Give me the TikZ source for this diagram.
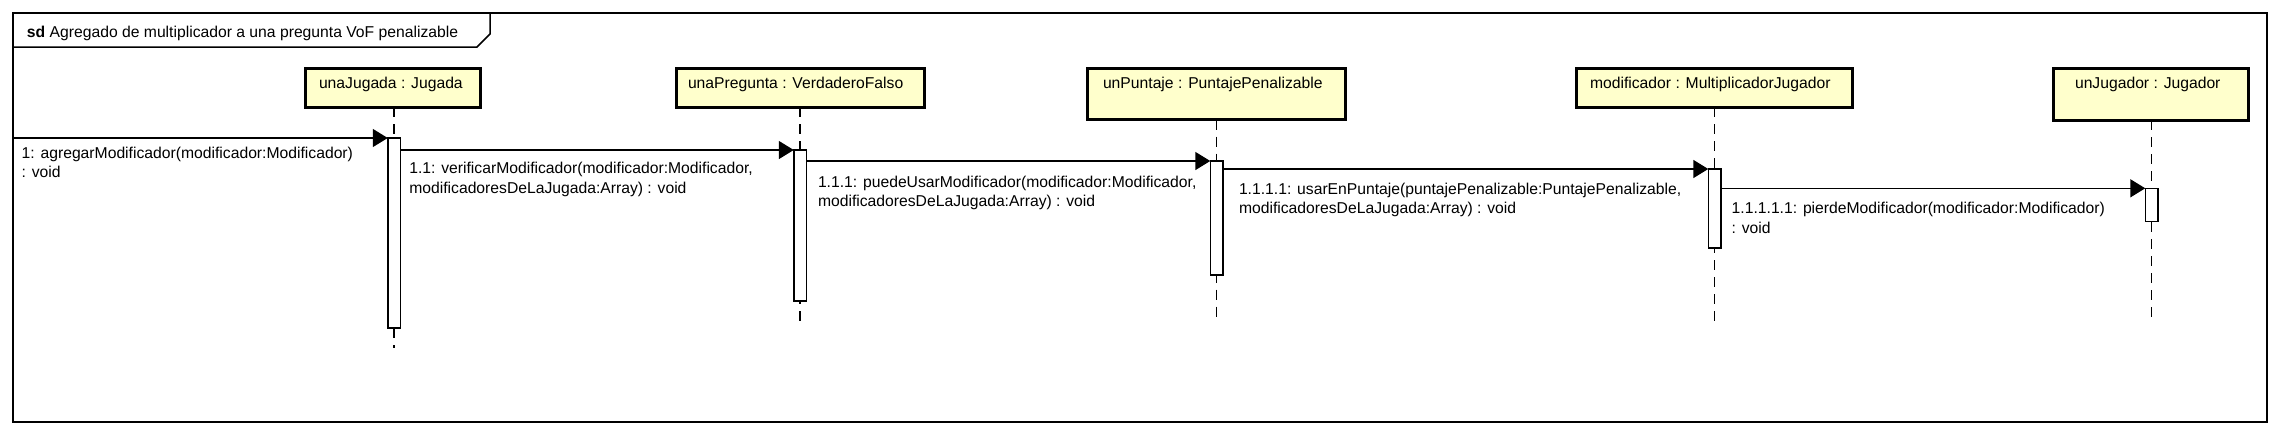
\documentclass[tikz,border=0pt]{standalone}
\usepackage{fontspec}
\setmainfont{Liberation Sans}
\usetikzlibrary{arrows.meta}
\definecolor{headfill}{HTML}{FFFFCC}
\begin{document}
\begin{tikzpicture}[x=1pt,y=-1pt,
  every node/.style={font=\fontsize{15.7}{19.7}\selectfont, inner sep=0pt, outer sep=0pt},
  head/.style={draw=black, line width=3pt, fill=headfill, anchor=north west},
  act/.style={draw=black, line width=1.5pt, fill=white, minimum width=12.5pt, anchor=north},
  lifeline/.style={line width=1.5pt, dash pattern=on 10pt off 7pt},
  msg/.style={line width=1.6pt, -{Triangle[length=15pt,width=18pt]}},
  lbl/.style={anchor=base west},
  frameline/.style={line width=1.5pt}]
\useasboundingbox (0,0) rectangle (2282,434);
% frame
\draw[frameline] (13,13) rectangle (2267,422);
\draw[frameline] (13,47) -- (477,47) -- (490,34) -- (490,13);
\node[lbl] (title) at (27,37.7) {\textbf{sd} Agregado de multiplicador a una pregunta VoF penalizable};
% heads
\node[head, minimum width=175pt, minimum height=38.5pt] (h1) at (305.5,68.5) {};
\node[head, minimum width=248pt, minimum height=38.5pt] (h2) at (676.5,68.5) {};
\node[head, minimum width=258pt, minimum height=51pt] (h3) at (1087.5,68.5) {};
\node[head, minimum width=275.5pt, minimum height=38.5pt] (h4) at (1576.5,68.5) {};
\node[head, minimum width=194.5pt, minimum height=51.5pt] (h5) at (2053.5,68.5) {};
\node[lbl] (t1) at (319,88) {unaJugada : Jugada};
\node[lbl] (t2) at (688,88) {unaPregunta : VerdaderoFalso};
\node[lbl] (t3) at (1103,88) {unPuntaje : PuntajePenalizable};
\node[lbl] (t4) at (1590,88) {modificador : MultiplicadorJugador};
\node[lbl] (t5) at (2075,88) {unJugador : Jugador};
% lifelines
\coordinate (e1) at (394,348);
\coordinate (e2) at (800,323);
\coordinate (e3) at (1216.5,323);
\coordinate (e4) at (1714.5,323);
\coordinate (e5) at (2151.5,323);
\draw[lifeline] (e1 |- h1.south) -- (e1);
\draw[lifeline] (e2 |- h2.south) -- (e2);
\draw[lifeline] (e3 |- h3.south) -- (e3);
\draw[lifeline] (e4 |- h4.south) -- (e4);
\draw[lifeline] (e5 |- h5.south) -- (e5);
% activations
\node[act, minimum height=190pt] (a1) at (394,138) {};
\node[act, minimum height=151pt] (a2) at (800,150) {};
\node[act, minimum height=114pt] (a3) at (1216.5,161) {};
\node[act, minimum height=79pt] (a4) at (1714.5,169) {};
\node[act, minimum height=33pt] (a5) at (2151.5,188.3) {};
% messages
\coordinate (f1) at (13,138);
\draw[msg] (f1) -- (a1.north west);
\draw[msg] (a1.east |- a2.north) -- (a2.north west);
\draw[msg] (a2.east |- a3.north) -- (a3.north west);
\draw[msg] (a3.east |- a4.north) -- (a4.north west);
\draw[msg] (a4.east |- a5.north) -- (a5.north west);
% labels
\node[lbl] (l1) at (21.7,158) {\begin{tabular}[t]{@{}l@{}}1: agregarModificador(modificador:Modificador)\\: void\end{tabular}};
\node[lbl] (l2) at (409.3,173.3) {\begin{tabular}[t]{@{}l@{}}1.1: verificarModificador(modificador:Modificador,\\modificadoresDeLaJugada:Array) : void\end{tabular}};
\node[lbl] (l3) at (818,187) {\begin{tabular}[t]{@{}l@{}}1.1.1: puedeUsarModificador(modificador:Modificador,\\modificadoresDeLaJugada:Array) : void\end{tabular}};
\node[lbl] (l4) at (1239,194) {\begin{tabular}[t]{@{}l@{}}1.1.1.1: usarEnPuntaje(puntajePenalizable:PuntajePenalizable,\\modificadoresDeLaJugada:Array) : void\end{tabular}};
\node[lbl] (l5) at (1731.7,213.3) {\begin{tabular}[t]{@{}l@{}}1.1.1.1.1: pierdeModificador(modificador:Modificador)\\: void\end{tabular}};
\end{tikzpicture}
\end{document}
